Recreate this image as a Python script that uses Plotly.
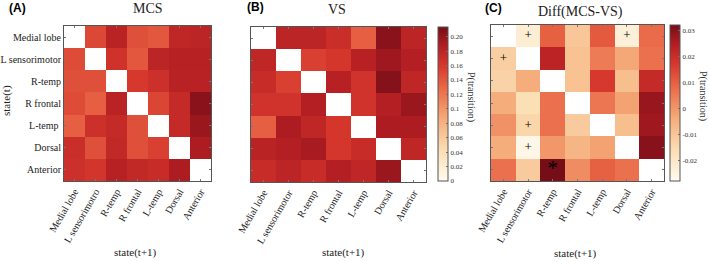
import plotly.graph_objects as go

states = ["Medial lobe", "L sensorimotor", "R-temp", "R frontal", "L-temp", "Dorsal", "Anterior"]
x_labels_a = ["Medial lobe", "L sensorimotro", "R-temp", "R frontal", "L-temp", "Dorsal", "Anterior"]
y_labels_a = ["Medial lobe", "L sensorimotor", "R-temp", "R frontal", "L-temp ", "Dorsal", "Anterior"]

N = None
mcs = [
    [N, 0.150, 0.182, 0.145, 0.140, 0.178, 0.180],
    [0.148, N, 0.166, 0.140, 0.180, 0.184, 0.184],
    [0.145, 0.145, N, 0.160, 0.168, 0.183, 0.183],
    [0.148, 0.135, 0.182, N, 0.152, 0.174, 0.205],
    [0.135, 0.168, 0.174, 0.145, N, 0.174, 0.198],
    [0.170, 0.145, 0.176, 0.145, 0.155, N, 0.190],
    [0.168, 0.163, 0.184, 0.176, 0.172, 0.190, N],
]
vs = [
    [N, 0.180, 0.180, 0.170, 0.135, 0.205, 0.180],
    [0.178, N, 0.155, 0.162, 0.184, 0.196, 0.186],
    [0.172, 0.155, N, 0.184, 0.165, 0.207, 0.178],
    [0.165, 0.165, 0.186, N, 0.165, 0.186, 0.198],
    [0.135, 0.190, 0.178, 0.162, N, 0.190, 0.190],
    [0.182, 0.186, 0.192, 0.162, 0.172, N, 0.178],
    [0.172, 0.180, 0.172, 0.186, 0.178, 0.198, N],
]
diff = [
    [N, -0.022, 0.010, -0.010, 0.011, -0.023, 0.008],
    [-0.012, N, 0.023, -0.009, 0.005, -0.003, 0.007],
    [-0.013, -0.004, N, -0.009, 0.017, -0.008, 0.021],
    [-0.004, -0.016, 0.007, N, 0.006, -0.002, 0.028],
    [0.001, -0.014, 0.007, -0.011, N, -0.008, 0.027],
    [-0.004, -0.026, 0.000, -0.006, -0.002, N, 0.030],
    [0.007, -0.011, 0.032, 0.002, 0.010, 0.007, N],
]

# significance markers in panel C (row state, column state, symbol)
sig_rows = ["Medial lobe", "Medial lobe", "L sensorimotor", "L-temp", "Dorsal", "Anterior"]
sig_cols = ["L sensorimotor", "Dorsal", "Medial lobe", "L sensorimotor", "L sensorimotor", "R-temp"]
sig_syms = ["+", "+", "+", "+", "+", "*"]

p_ticks = [0, 0.02, 0.04, 0.06, 0.08, 0.1, 0.12, 0.14, 0.16, 0.18, 0.20]
p_ticktext = ["0", "0.02", "0.04", "0.06", "0.08", "0.1", "0.12", "0.14", "0.16", "0.18", "0.20"]
d_ticks = [-0.02, -0.01, 0, 0.01, 0.02, 0.03]
d_ticktext = ["-0.02", "-0.01", "0", "0.01", "0.02", "0.03"]

cscale = [
    [0.0, "rgb(255,251,240)"],
    [0.2, "rgb(251,222,180)"],
    [0.4, "rgb(245,172,122)"],
    [0.6, "rgb(234,106,72)"],
    [0.75, "rgb(214,56,45)"],
    [0.88, "rgb(178,29,34)"],
    [1.0, "rgb(118,14,24)"],
]

SERIF = "Liberation Serif"
W, H = 709, 262

def px(x):
    return x / W

def py(y):
    return 1 - y / H

fig = go.Figure()

fig.add_trace(go.Heatmap(z=mcs, x=states, y=states, coloraxis="coloraxis",
                         xaxis="x", yaxis="y", hoverongaps=False))
fig.add_trace(go.Heatmap(z=vs, x=states, y=states, coloraxis="coloraxis",
                         xaxis="x2", yaxis="y2", hoverongaps=False))
fig.add_trace(go.Heatmap(z=diff, x=states, y=states, coloraxis="coloraxis2",
                         xaxis="x3", yaxis="y3", hoverongaps=False))
fig.add_trace(go.Scatter(x=sig_cols, y=sig_rows, text=sig_syms, mode="text",
                         textfont=dict(family=SERIF, size=[13 if s == "+" else 22 for s in sig_syms],
                                       color="black"),
                         textposition="middle center",
                         xaxis="x3", yaxis="y3", showlegend=False))

axis_common = dict(showline=True, linecolor="#555", linewidth=1, mirror="ticks",
                   ticks="inside", ticklen=2, tickcolor="#777",
                   tickfont=dict(family=SERIF, size=10, color="#222"),
                   showgrid=False, zeroline=False, type="category", automargin=False)

boxes = {
    "": (64, 211, 26, 181),
    "2": (251, 426, 27, 182),
    "3": (491, 664, 25, 181),
}
for k, (x0, x1, y0, y1) in boxes.items():
    xa = dict(axis_common, domain=[px(x0), px(x1)], tickangle=-60,
              anchor="y" + k, categoryorder="array", categoryarray=states)
    ya = dict(axis_common, domain=[py(y1), py(y0)], anchor="x" + k,
              autorange="reversed", categoryorder="array", categoryarray=states)
    if k == "":
        xa.update(tickmode="array", tickvals=states, ticktext=x_labels_a)
        ya.update(tickmode="array", tickvals=states, ticktext=y_labels_a)
    else:
        ya.update(showticklabels=False)
    fig.update_layout(**{"xaxis" + k: xa, "yaxis" + k: ya})

def cbar(x0, y0, y1, tv, tt):
    return dict(x=px(x0), xanchor="left", y=py(y1), yanchor="bottom",
                len=(y1 - y0) / H, lenmode="fraction",
                thickness=10, thicknessmode="pixels", xpad=0, ypad=0,
                outlinecolor="#555", outlinewidth=1,
                tickvals=tv, ticktext=tt,
                ticks="inside", ticklen=2, tickcolor="#777",
                tickfont=dict(family=SERIF, size=7, color="#333"))

fig.update_layout(
    width=W, height=H,
    margin=dict(l=0, r=0, t=0, b=0, autoexpand=False),
    paper_bgcolor="white", plot_bgcolor="white",
    showlegend=False,
    coloraxis=dict(cmin=0, cmax=0.2135, colorscale=cscale,
                   colorbar=cbar(438, 27, 181, p_ticks, p_ticktext)),
    coloraxis2=dict(cmin=-0.0277, cmax=0.032, colorscale=cscale,
                    colorbar=cbar(670, 25, 181, d_ticks, d_ticktext)),
)

anns = [
    dict(text="<b>(A)</b>", x=px(17), y=py(8), font=dict(family="Liberation Sans", size=12, color="black")),
    dict(text="<b>(B)</b>", x=px(255), y=py(7), font=dict(family="Liberation Sans", size=12, color="black")),
    dict(text="<b>(C)</b>", x=px(493), y=py(8), font=dict(family="Liberation Sans", size=12, color="black")),
    dict(text="MCS", x=px(148), y=py(8), font=dict(family=SERIF, size=14, color="#222")),
    dict(text="VS", x=px(337), y=py(9), font=dict(family=SERIF, size=14, color="#222")),
    dict(text="Diff(MCS-VS)", x=px(580), y=py(12), font=dict(family=SERIF, size=14, color="#222")),
    dict(text="state(t+1)", x=px(135), y=py(252), font=dict(family=SERIF, size=11, color="#222")),
    dict(text="state(t+1)", x=px(343), y=py(252), font=dict(family=SERIF, size=11, color="#222")),
    dict(text="state(t+1)", x=px(575), y=py(253), font=dict(family=SERIF, size=11, color="#222")),
    dict(text="state(t)", x=px(7), y=py(101), textangle=-90, font=dict(family=SERIF, size=11, color="#222")),
    dict(text="P(transition)", x=px(471), y=py(97), textangle=90, font=dict(family=SERIF, size=10, color="#333")),
    dict(text="P(transition)", x=px(703), y=py(96), textangle=90, font=dict(family=SERIF, size=10, color="#333")),
]
for a in anns:
    a.update(xref="paper", yref="paper", showarrow=False, xanchor="center", yanchor="middle")
fig.update_layout(annotations=anns)

fig.write_html("out.html", config={"displayModeBar": False},
               post_script="document.body.style.margin='0';document.body.style.overflow='hidden';")
